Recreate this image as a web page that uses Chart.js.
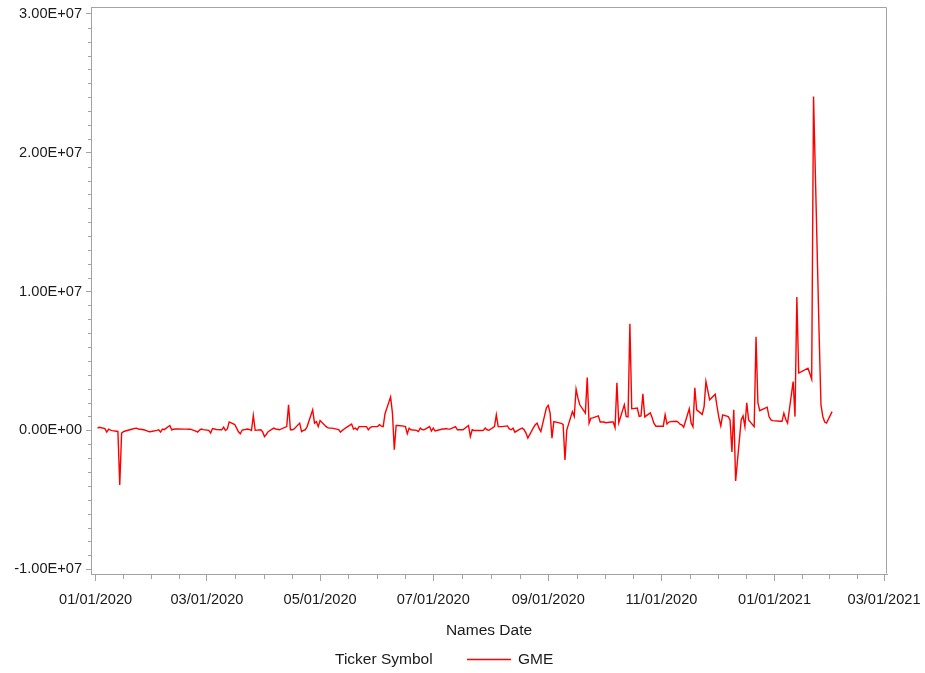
<!DOCTYPE html>
<html>
<head>
<meta charset="utf-8">
<title>GME</title>
<script src="https://cdn.jsdelivr.net/npm/chart.js@4/dist/chart.umd.min.js"></script>
<style>
  html, body { margin: 0; padding: 0; background: #ffffff; }
  #wrap { width: 925px; height: 673px; }
</style>
</head>
<body>
<div id="wrap"><canvas id="chart" width="925" height="673"></canvas></div>
<script>
// Daily values for each month, in millions, one entry per trading day.
const jan2020 = [0.16, 0.22, 0.12, -0.13, 0.08, 0.02, -0.02, -0.08, -3.93, -0.2, -0.09, -0.05, 0.1, 0.14, 0.16, 0.1, 0.04, 0.0, -0.05, -0.1, -0.08];
const feb2020 = [0.0, 0.04, -0.13, 0.09, 0.05, 0.35, 0.04, 0.08, 0.1, 0.1, 0.09, 0.09, 0.08, 0.09, -0.05, -0.13, 0.02, 0.09, 0.05];
const mar2020 = [0.0, -0.2, 0.13, 0.1, 0.06, 0.04, 0.23, -0.01, 0.1, 0.61, 0.42, 0.16, -0.1, -0.25, 0.02, 0.09, 0.05, -0.01, 1.07, 0.0, 0.04, -0.1];
const apr2020 = [-0.45, -0.3, -0.1, 0.16, 0.1, 0.08, 0.04, 0.27, 1.84, 0.04, 0.04, 0.1, 0.52, -0.09, 0.0, 0.04, 0.27, 1.48, 0.52, 0.63, 0.27];
const may2020 = [0.7, 0.3, 0.2, 0.16, 0.16, 0.14, 0.05, -0.13, 0.0, 0.1, 0.2, 0.45, 0.1, 0.16, 0.04, 0.27, 0.27, 0.04, 0.2, 0.27];
const jun2020 = [0.27, 0.4, 0.3, 0.27, 1.2, 2.41, 1.24, -1.4, 0.35, 0.35, 0.3, 0.27, -0.25, 0.16, 0.04, 0.0, -0.09, 0.16, 0.05, 0.04, 0.27, -0.05];
const jul2020 = [0.16, -0.05, 0.1, 0.1, 0.13, 0.09, 0.09, 0.27, 0.04, 0.04, 0.04, 0.04, 0.35, -0.45, 0.04, -0.01, 0.0, -0.01, 0.0, 0.16, 0.04, 0.0];
const aug2020 = [0.27, 1.12, 0.27, 0.27, 0.27, 0.32, 0.1, 0.04, 0.16, -0.13, 0.1, 0.16, 0.04, -0.2, -0.56, 0.2, 0.4, 0.52, 0.16, -0.09, 1.62];
const sep2020 = [1.8, 1.24, -0.56, 0.63, 0.5, 0.42, -2.13, 0.04, 1.35, 1.0, 2.97, 2.32, 1.84, 1.24, 3.8, 0.52, 0.88, 0.9, 1.04, 0.6, 0.6];
const oct2020 = [0.6, 0.55, 0.6, 0.6, 0.2, 3.42, 0.55, 1.84, 1.0, 0.97, 7.67, 1.55, 1.6, 1.0, 1.04, 2.63, 0.97, 1.26, 0.9, 0.5, 0.3, 0.3];
const nov2020 = [0.3, 1.12, 0.45, 0.6, 0.63, 0.65, 0.6, 0.45, 0.4, 0.23, 1.55, 0.52, 0.25, 3.06, 1.48, 1.15, 1.7, 3.52, 2.2, 2.6];
const dec2020 = [1.7, 0.9, 0.32, 1.12, 0.99, 0.75, -1.55, 1.48, -3.64, 0.75, 1.04, 0.27, 1.98, 0.75, 0.27, 6.74, 2.0, 1.42, 1.67, 0.99, 0.75, 0.7];
const jan2021 = [0.65, 0.65, 1.24, 0.8, 0.52, 3.52, 0.99, 9.6, 4.14, 4.2, 4.48, 4.1, 3.69, 24.05, 7.0, 1.84, 1.0, 0.6, 0.52];
const feb2021 = [1.35];

// Market holidays (no trading day).
const holidays = ['2020-01-01', '2020-01-20', '2020-02-17', '2020-04-10', '2020-05-25', '2020-07-03',
                  '2020-09-07', '2020-11-26', '2020-12-25', '2021-01-01', '2021-01-18', '2021-02-15'];

// Axis tick labels.
const xTickLabels = ['01/01/2020', '03/01/2020', '05/01/2020', '07/01/2020', '09/01/2020', '11/01/2020', '01/01/2021', '03/01/2021'];
const yTickLabels = ['-1.00E+07', '0.00E+00', '1.00E+07', '2.00E+07', '3.00E+07'];

const seriesName = 'GME';
const legendTitle = 'Ticker Symbol';
const xAxisTitle = 'Names Date';

const MILLION = 1e6;
const DAY_MS = 86400000;
const ORIGIN = Date.UTC(2020, 0, 1);
const pad2 = n => String(n).padStart(2, '0');
const dayIndex = (y, m, d) => (Date.UTC(y, m - 1, d) - ORIGIN) / DAY_MS;
const parseMDY = s => { const [m, d, y] = s.split('/').map(Number); return dayIndex(y, m, d); };

const months = [
  [2020, 1, jan2020], [2020, 2, feb2020], [2020, 3, mar2020], [2020, 4, apr2020],
  [2020, 5, may2020], [2020, 6, jun2020], [2020, 7, jul2020], [2020, 8, aug2020],
  [2020, 9, sep2020], [2020, 10, oct2020], [2020, 11, nov2020], [2020, 12, dec2020],
  [2021, 1, jan2021], [2021, 2, feb2021]
];

// Pair each month's values with that month's trading days.
const points = [];
for (const [y, m, vals] of months) {
  const last = new Date(Date.UTC(y, m, 0)).getUTCDate();
  const days = [];
  for (let d = 1; d <= last; d++) {
    const wd = new Date(Date.UTC(y, m - 1, d)).getUTCDay();
    if (wd === 0 || wd === 6 || holidays.includes(`${y}-${pad2(m)}-${pad2(d)}`)) continue;
    days.push(d);
  }
  vals.forEach((v, i) => points.push({ x: dayIndex(y, m, days[i]), y: v * MILLION }));
}

const xTickValues = xTickLabels.map(parseMDY);
const yTickValues = yTickLabels.map(Number);

const FRAME = '#a3a3a3';
const TEXT = '#1a1a1a';
const FONT = 'Arial, "Liberation Sans", Helvetica, sans-serif';

// Frame, minor ticks and legend.
const decorations = {
  id: 'decorations',
  afterDraw(chart) {
    const { ctx, chartArea: a } = chart;
    const xs = chart.scales.x, ys = chart.scales.y;
    ctx.save();
    ctx.strokeStyle = FRAME;
    ctx.lineWidth = 1;
    ctx.beginPath();
    ctx.moveTo(Math.round(a.left) + 0.5, Math.round(a.top) + 0.5);
    ctx.lineTo(Math.round(a.right) - 0.5, Math.round(a.top) + 0.5);
    ctx.lineTo(Math.round(a.right) - 0.5, Math.round(a.bottom) - 0.5);
    ctx.stroke();

    // minor ticks on x: three between each pair of labelled ticks
    ctx.beginPath();
    for (let i = 0; i < xTickValues.length - 1; i++) {
      const v0 = xTickValues[i], v1 = xTickValues[i + 1];
      for (let k = 1; k <= 3; k++) {
        const px = Math.round(xs.getPixelForValue(v0 + (v1 - v0) * k / 4)) + 0.5;
        ctx.moveTo(px, a.bottom);
        ctx.lineTo(px, a.bottom + 5);
      }
    }
    // minor ticks on y: every 1.00E+06
    for (let i = 0; i < yTickValues.length - 1; i++) {
      const v0 = yTickValues[i], v1 = yTickValues[i + 1];
      for (let k = 1; k <= 9; k++) {
        const py = Math.round(ys.getPixelForValue(v0 + (v1 - v0) * k / 10)) + 0.5;
        ctx.moveTo(a.left - 3, py);
        ctx.lineTo(a.left, py);
      }
    }
    ctx.stroke();

    // legend
    const ly = 660;
    ctx.font = '15.5px ' + FONT;
    ctx.fillStyle = TEXT;
    ctx.textBaseline = 'middle';
    ctx.textAlign = 'left';
    ctx.fillText(legendTitle, 335, ly);
    const ds = chart.data.datasets[0];
    ctx.strokeStyle = ds.borderColor;
    ctx.lineWidth = 1.3;
    ctx.beginPath();
    ctx.moveTo(467, ly - 0.5);
    ctx.lineTo(511, ly - 0.5);
    ctx.stroke();
    ctx.fillText(ds.label, 518, ly);
    ctx.restore();
  }
};

new Chart(document.getElementById('chart'), {
  type: 'line',
  data: {
    datasets: [{
      label: seriesName,
      data: points,
      borderColor: '#ff0000',
      borderWidth: 1.4,
      pointRadius: 0,
      tension: 0,
      fill: false
    }]
  },
  options: {
    responsive: false,
    animation: false,
    devicePixelRatio: 1,
    layout: { padding: { top: 7, right: 38, bottom: 33, left: 0 } },
    plugins: { legend: { display: false }, tooltip: { enabled: false } },
    scales: {
      x: {
        type: 'linear',
        min: -2.5,
        max: 426.6,
        afterBuildTicks: s => { s.ticks = xTickValues.map(v => ({ value: v })); },
        afterFit: s => { s.height = 66; s.paddingLeft = 0; s.paddingRight = 0; },
        ticks: {
          autoSkip: false,
          maxRotation: 0,
          padding: 10,
          color: TEXT,
          font: { family: FONT, size: 14.6 },
          callback: v => xTickLabels[xTickValues.indexOf(v)]
        },
        grid: { drawOnChartArea: false, tickLength: 7, color: FRAME },
        border: { color: FRAME, width: 1 },
        title: {
          display: true,
          text: xAxisTitle,
          color: TEXT,
          font: { family: FONT, size: 15.5 },
          padding: { top: 0, bottom: 0 }
        }
      },
      y: {
        type: 'linear',
        min: -1.035e7,
        max: 3.05e7,
        afterBuildTicks: s => { s.ticks = yTickValues.map(v => ({ value: v })); },
        afterFit: s => { s.width = 91; s.paddingTop = 0; s.paddingBottom = 0; },
        ticks: {
          padding: 4,
          color: TEXT,
          font: { family: FONT, size: 14.6 },
          callback: v => yTickLabels[yTickValues.indexOf(v)]
        },
        grid: { drawOnChartArea: false, tickLength: 5, color: FRAME },
        border: { color: FRAME, width: 1 }
      }
    }
  },
  plugins: [decorations]
});
</script>
</body>
</html>
